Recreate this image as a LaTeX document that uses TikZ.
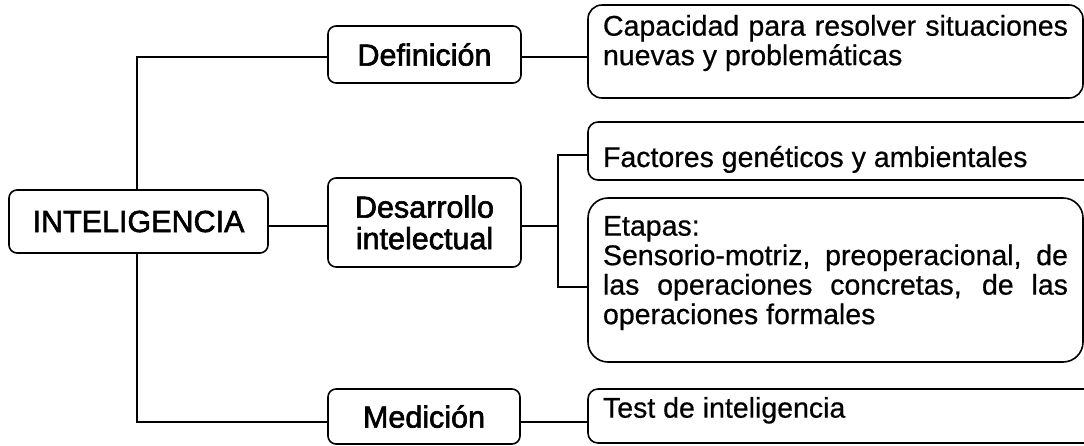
\documentclass[tikz,border=0pt]{standalone}
\usepackage{fontspec}
\setmainfont{Liberation Sans}
\newfontfamily\leftfont{Liberation Sans}[FakeBold=2]
\newfontfamily\rightfont{Liberation Sans}[FakeBold=0.6]
\begin{document}
\begin{tikzpicture}[x=1pt,y=-1pt,
  lbox/.style={draw, line width=1.6pt, rounded corners=8pt, inner sep=0pt,
    font=\leftfont\fontsize{30.5}{31.5}\selectfont, align=center},
  rbox/.style={draw, line width=1.6pt, inner sep=0pt,
    font=\rightfont\fontsize{28.5}{29.5}\selectfont},
  conn/.style={line width=1.5pt}]
\useasboundingbox (0,0) rectangle (1084,445);
\clip (0,0) rectangle (1084,445);
% left column
\node[lbox, minimum width=259pt, minimum height=63pt] (inte) at (138.5,221.5) {INTELIGENCIA};
\node[lbox, minimum width=193pt, minimum height=57pt] (def) at (424.5,54.5) {Definición};
\node[lbox, minimum width=193pt, minimum height=89pt] (des) at (424.5,222.5) {Desarrollo\\intelectual};
\node[lbox, minimum width=192pt, minimum height=55pt] (med) at (424,416.5) {Medición};
% right column
\node[rbox, rounded corners=14pt, minimum width=495pt, minimum height=93pt] (cap) at (835.5,51.5)
  {\parbox[c][93pt][t]{465pt}{\vspace{10pt}Capacidad para resolver situaciones\linebreak nuevas y problemáticas}};
\node[rbox, rounded corners=10pt, minimum width=512pt, minimum height=58pt] (fac) at (844,151)
  {\parbox[c][58pt][t]{482pt}{\vspace{24pt}Factores genéticos y ambientales}};
\node[rbox, rounded corners=20pt, minimum width=495pt, minimum height=164pt] (eta) at (835.5,280)
  {\parbox[c][164pt][t]{465pt}{\vspace{18pt}Etapas:\\Sensorio-motriz, preoperacional, de\linebreak las operaciones concretas, de las\linebreak operaciones formales}};
\node[rbox, rounded corners=10pt, minimum width=512pt, minimum height=54pt] (test) at (844,416)
  {\parbox[c][54pt][t]{482pt}{\vspace{8pt}Test de inteligencia}};
% connectors
\coordinate (j) at (558,226);
\draw[conn] ([xshift=-1.5pt]inte.north) |- ([yshift=-2.5pt]def.west);
\draw[conn] ([xshift=-1.5pt]inte.south) |- ([yshift=-5.5pt]med.west);
\draw[conn] ([yshift=-4.5pt]inte.east) -- ([yshift=-4.5pt]inte.east -| des.west);
\draw[conn] ([yshift=-2.5pt]def.east) -- ([yshift=-2.5pt]def.east -| cap.west);
\draw[conn] ([yshift=-3.5pt]des.east) -- (j);
\draw[conn] ([yshift=-4pt]fac.west) -| (j) |- ([yshift=-7pt]eta.west);
\draw[conn] ([yshift=-5.5pt]med.east) -- ([yshift=-5.5pt]med.east -| test.west);
\end{tikzpicture}
\end{document}
